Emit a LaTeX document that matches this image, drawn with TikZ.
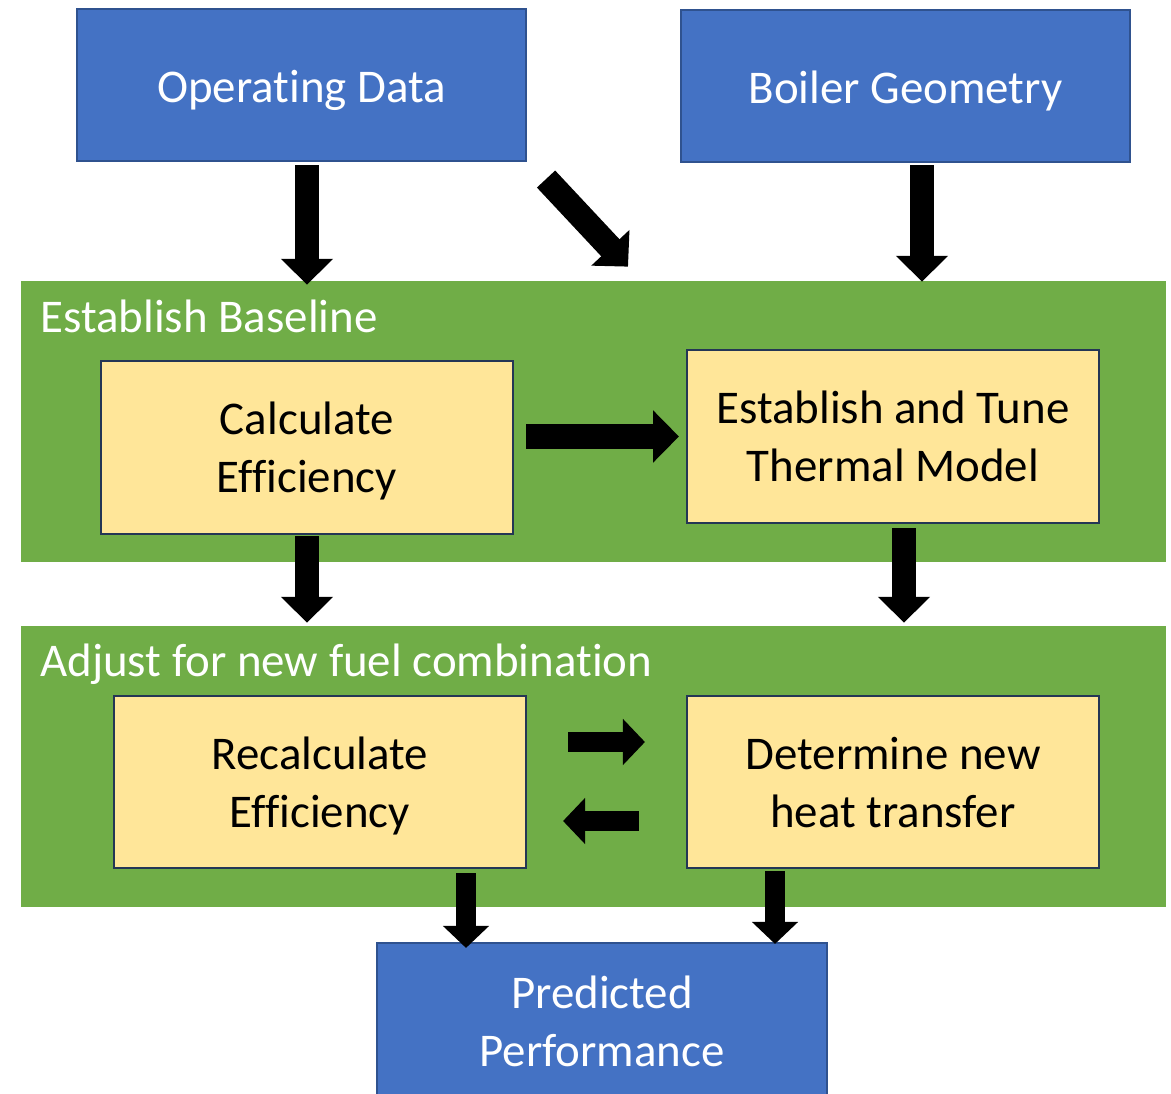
\documentclass[tikz,border=0pt]{standalone}
\usepackage{fontspec}
\setmainfont{Carlito}[Ligatures=NoCommon]
\usepackage{xcolor}
\usetikzlibrary{arrows.meta, positioning, calc}

\definecolor{boxblue}{HTML}{4472C4}
\definecolor{edgeblue}{HTML}{2F528F}
\definecolor{edgedark}{HTML}{243655}
\definecolor{panelgreen}{HTML}{70AD47}
\definecolor{stepyellow}{HTML}{FFE699}

\newlength\px
\setlength\px{0.02cm}
\newcommand\linestrut{\rule[-6pt]{0pt}{32pt}}

\tikzset{
  bluebox/.style={rectangle, draw=edgeblue, line width=1.2pt, fill=boxblue,
    text=white, align=center, inner sep=0pt, font=\fontsize{26.7}{32.9}\selectfont},
  oneline/.style={execute at begin node=\linestrut, execute at end node=\linestrut},
  twoline/.style={text depth=0pt},
  stepbox/.style={rectangle, draw=edgedark, line width=1.2pt, fill=stepyellow,
    text=black, align=center, inner sep=0pt, minimum width=412\px,
    font=\fontsize{26.7}{32.9}\selectfont, twoline},
  panel/.style={rectangle, fill=panelgreen, inner sep=0pt,
    minimum width=1145\px, minimum height=281\px},
  paneltitle/.style={anchor=base west, text=white, inner sep=0pt,
    font=\fontsize{26.7}{32.9}\selectfont},
  bigarrow/.style={line width=14.2pt, -{Triangle[length=14.7pt, width=28.9pt]}},
  smallarrow/.style={line width=11.9pt, -{Triangle[length=12.5pt, width=25.5pt]}}
}

\begin{document}
\begin{tikzpicture}[x=0.02cm, y=-0.02cm]
  \clip (0,0) rectangle (1171,1094);

  % green stages
  \node[panel] (base) at (593.5,421.5) {};
  \node[panel] (adjust) at (593.5,766.5) {};
  \node[paneltitle] (basetitle) at (40,333) {Establish Baseline};
  \node[paneltitle] (adjusttitle) at (40,677) {Adjust for new fuel combination};

  % inputs and output
  \node[bluebox, oneline, minimum width=449\px, minimum height=152\px] (opdata) at (301.5,85) {Operating Data};
  \node[bluebox, oneline, minimum width=449\px, minimum height=152\px] (boiler) at (905.5,86) {Boiler Geometry};
  \node[bluebox, twoline, minimum width=450\px, minimum height=157\px] (predicted) at (602,1021.5) {Predicted\\Performance};

  % steps
  \node[stepbox, minimum height=173\px] (calc) at (307,447.5) {Calculate\\Efficiency};
  \node[stepbox, minimum height=173\px] (tune) at (893,436.5) {Establish and Tune\\Thermal Model};
  \node[stepbox, minimum height=172\px] (recalc) at (320,782) {Recalculate\\Efficiency};
  \node[stepbox, minimum height=172\px] (determine) at (893,782) {Determine new\\heat transfer};

  % flow
  \draw[bigarrow] ($(opdata.south -| calc.south)+(0,3)$) -- ($(base.north -| calc.south)+(0,4)$);
  \draw[bigarrow] ($(opdata.south east)+(19,17)$) -- ($(base.north)+(34.5,-14)$);
  \draw[bigarrow] ($(boiler.south)+(16.5,2)$) -- ($(base.north -| boiler.south)+(16.5,1)$);
  \draw[bigarrow] ($(calc.east |- tune.west)+(12,0)$) -- ($(tune.west)+(-7,0)$);
  \draw[bigarrow] ($(calc.south)+(0,1)$) -- ($(adjust.north -| calc.south)+(0,-3)$);
  \draw[bigarrow] ($(tune.south)+(11,4)$) -- ($(adjust.north -| tune.south)+(11,-3)$);
  \draw[smallarrow] ($(recalc.east)+(41,-40)$) -- ($(determine.west)+(-41,-40)$);
  \draw[smallarrow] ($(determine.west)+(-47,39)$) -- ($(recalc.east)+(36,39)$);
  \draw[smallarrow] ($(recalc.south)+(146,4)$) -- ($(predicted.north -| recalc.south)+(146,6)$);
  \draw[smallarrow] ($(determine.south)+(-118,2)$) -- ($(predicted.north -| determine.south)+(-118,2)$);
\end{tikzpicture}
\end{document}
